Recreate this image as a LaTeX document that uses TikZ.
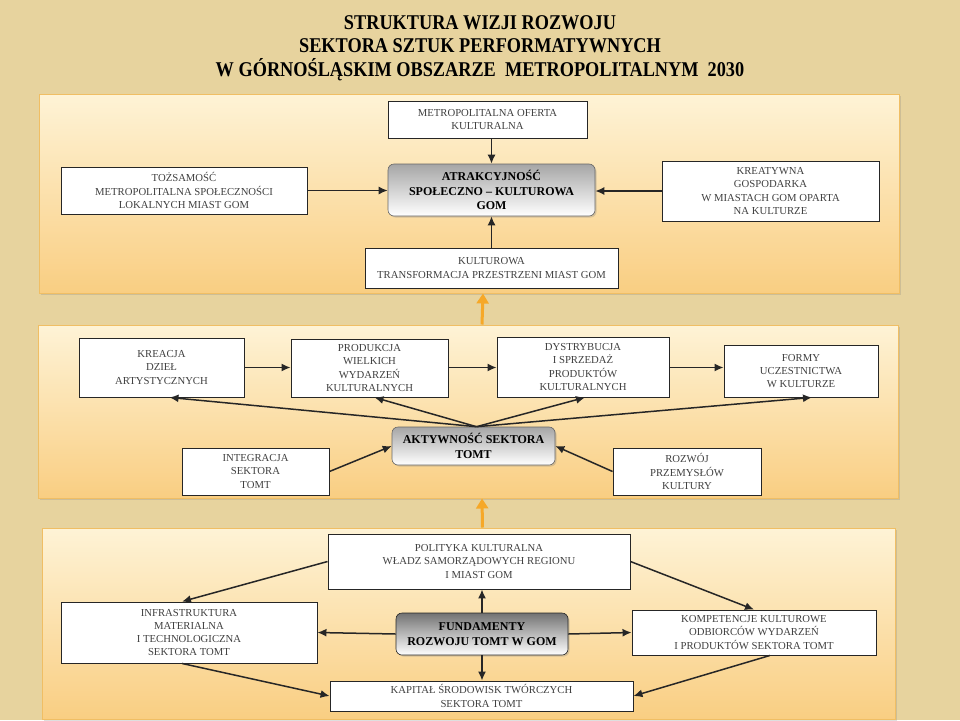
\documentclass[tikz,border=0pt]{standalone}
\usepackage{fontspec}
\setmainfont{Liberation Serif}
\newfontfamily\titlefont[FakeStretch=0.87]{Liberation Serif}
\usetikzlibrary{arrows.meta,shadows}
\definecolor{parchment}{RGB}{231,211,158}
\definecolor{paneltop}{RGB}{254,243,214}
\definecolor{panelbot}{RGB}{249,206,130}
\definecolor{panelrim}{RGB}{240,190,100}
\definecolor{flow}{RGB}{246,168,40}
\begin{document}
\begin{tikzpicture}[x=1pt,y=-1pt,
	panel/.style={rectangle,draw=panelrim,line width=1pt,top color=paneltop,bottom color=panelbot,
		inner sep=0,drop shadow={opacity=0.25,shadow xshift=2pt,shadow yshift=-2pt}},
	box/.style={rectangle,draw=black!85,line width=0.9pt,fill=white,text=black!75,align=center,
		inner sep=2pt,font=\fontsize{10.7}{13.2}\selectfont},
	hub/.style={rectangle,rounded corners=6pt,draw=black!60,line width=0.6pt,top color=black!35,
		bottom color=white,align=center,inner sep=2pt,font=\fontsize{12}{14.5}\selectfont\bfseries,
		drop shadow={opacity=0.3,shadow xshift=1.5pt,shadow yshift=-1.5pt}},
	arr/.style={-{Latex[length=9pt,width=8pt]},line width=1.5pt,draw=black!85},
	lift/.style={-{Triangle[length=10pt,width=12pt]},line width=3pt,draw=flow}]
\useasboundingbox (0,0) rectangle (960,720);
\fill[parchment] (0,0) rectangle (960,720);
\node[font=\fontsize{21}{23.5}\selectfont\titlefont\bfseries,align=center] (title) at (480,48)
	{STRUKTURA WIZJI ROZWOJU\\SEKTORA SZTUK PERFORMATYWNYCH\\W GÓRNOŚLĄSKIM OBSZARZE\ \ METROPOLITALNYM\ \ 2030};
\node[panel,minimum width=860pt,minimum height=199pt] (vision) at (469,193.5) {};
\node[panel,minimum width=860pt,minimum height=173pt] (activity) at (468,411.5) {};
\node[panel,minimum width=853pt,minimum height=191pt] (basis) at (468.5,623.5) {};
\node[box,minimum width=199pt,minimum height=37pt] (oferta) at (487.5,119.5) {METROPOLITALNA OFERTA\\KULTURALNA};
\node[box,minimum width=246pt,minimum height=47pt] (tozsamosc) at (184,190.5) {TOŻSAMOŚĆ\\METROPOLITALNA SPOŁECZNOŚCI\\LOKALNYCH MIAST GOM};
\node[hub,minimum width=207pt,minimum height=52pt] (atrakcyjnosc) at (491.5,190) {ATRAKCYJNOŚĆ\\SPOŁECZNO -- KULTUROWA\\GOM};
\node[box,minimum width=217pt,minimum height=60pt] (kreatywna) at (770.5,191) {KREATYWNA\\GOSPODARKA\\W MIASTACH GOM OPARTA\\NA KULTURZE};
\node[box,minimum width=253pt,minimum height=40pt] (transformacja) at (491.5,268) {KULTUROWA\\TRANSFORMACJA PRZESTRZENI MIAST GOM};
\node[box,minimum width=165pt,minimum height=59pt] (kreacja) at (161.5,367.5) {KREACJA\\DZIEŁ\\ARTYSTYCZNYCH};
\node[box,minimum width=157pt,minimum height=58pt] (produkcja) at (369.5,368) {PRODUKCJA\\WIELKICH\\WYDARZEŃ\\KULTURALNYCH};
\node[box,minimum width=172pt,minimum height=60pt] (dystrybucja) at (583,367) {DYSTRYBUCJA\\I SPRZEDAŻ\\PRODUKTÓW\\KULTURALNYCH};
\node[box,minimum width=154pt,minimum height=52pt] (formy) at (801,371) {FORMY\\UCZESTNICTWA\\W KULTURZE};
\node[hub,minimum width=163pt,minimum height=38pt] (aktywnosc) at (473.5,446) {AKTYWNOŚĆ SEKTORA\\TOMT};
\node[box,minimum width=147pt,minimum height=47pt] (integracja) at (255.5,471.5) {INTEGRACJA\\SEKTORA\\TOMT};
\node[box,minimum width=148pt,minimum height=47pt] (rozwoj) at (687,471.5) {ROZWÓJ\\PRZEMYSŁÓW\\KULTURY};
\node[box,minimum width=302pt,minimum height=55pt] (polityka) at (479,561.5) {POLITYKA KULTURALNA\\WŁADZ SAMORZĄDOWYCH REGIONU\\I MIAST GOM};
\node[box,minimum width=256pt,minimum height=61pt] (infrastruktura) at (189,632.5) {INFRASTRUKTURA\\MATERIALNA\\I TECHNOLOGICZNA\\SEKTORA TOMT};
\node[hub,top color=black!55,draw=black!85,minimum width=172pt,minimum height=42pt] (fundamenty) at (482,634) {FUNDAMENTY\\ROZWOJU TOMT W GOM};
\node[box,minimum width=244pt,minimum height=45pt] (kompetencje) at (754,632.5) {KOMPETENCJE KULTUROWE\\ODBIORCÓW WYDARZEŃ\\I PRODUKTÓW SEKTORA TOMT};
\node[box,minimum width=303pt,minimum height=30pt] (kapital) at (481.5,696) {KAPITAŁ ŚRODOWISK TWÓRCZYCH\\SEKTORA TOMT};
\draw[arr] (atrakcyjnosc.north |- oferta.south) -- (atrakcyjnosc.north);
\draw[arr] (tozsamosc.east) -- (tozsamosc.east -| atrakcyjnosc.west);
\draw[arr] (kreatywna.west) -- (kreatywna.west -| atrakcyjnosc.east);
\draw[arr] (atrakcyjnosc.south |- transformacja.north) -- (atrakcyjnosc.south);
\draw[lift] ([xshift=14pt]activity.north) -- ([xshift=14pt]vision.south);
\draw[arr] (kreacja.east) -- (kreacja.east -| produkcja.west);
\draw[arr] (kreacja.east -| produkcja.east) -- (kreacja.east -| dystrybucja.west);
\draw[arr] (kreacja.east -| dystrybucja.east) -- (kreacja.east -| formy.west);
\draw[arr] ([xshift=3pt]aktywnosc.north) -- ([xshift=8pt]kreacja.south);
\draw[arr] ([xshift=3pt]aktywnosc.north) -- ([xshift=5pt]produkcja.south);
\draw[arr] ([xshift=3pt]aktywnosc.north) -- ([xshift=2pt]dystrybucja.south);
\draw[arr] ([xshift=3pt]aktywnosc.north) -- ([xshift=11pt]formy.south);
\draw[arr] (integracja.east) -- (aktywnosc.west);
\draw[arr] (rozwoj.west) -- (aktywnosc.east);
\draw[lift] ([xshift=14pt]basis.north) -- ([xshift=14pt]activity.south);
\draw[arr] (fundamenty.north) -- (fundamenty.north |- polityka.south);
\draw[arr] (fundamenty.south) -- (fundamenty.south |- kapital.north);
\draw[arr] (fundamenty.west) -- (infrastruktura.east);
\draw[arr] (fundamenty.east) -- (kompetencje.west);
\draw[arr] (polityka.west) -- ([xshift=-7pt]infrastruktura.north);
\draw[arr] (polityka.east) -- (kompetencje.north);
\draw[arr] ([xshift=-7pt]infrastruktura.south) -- (kapital.west);
\draw[arr] ([xshift=16pt]kompetencje.south) -- (kapital.east);
\end{tikzpicture}
\end{document}
